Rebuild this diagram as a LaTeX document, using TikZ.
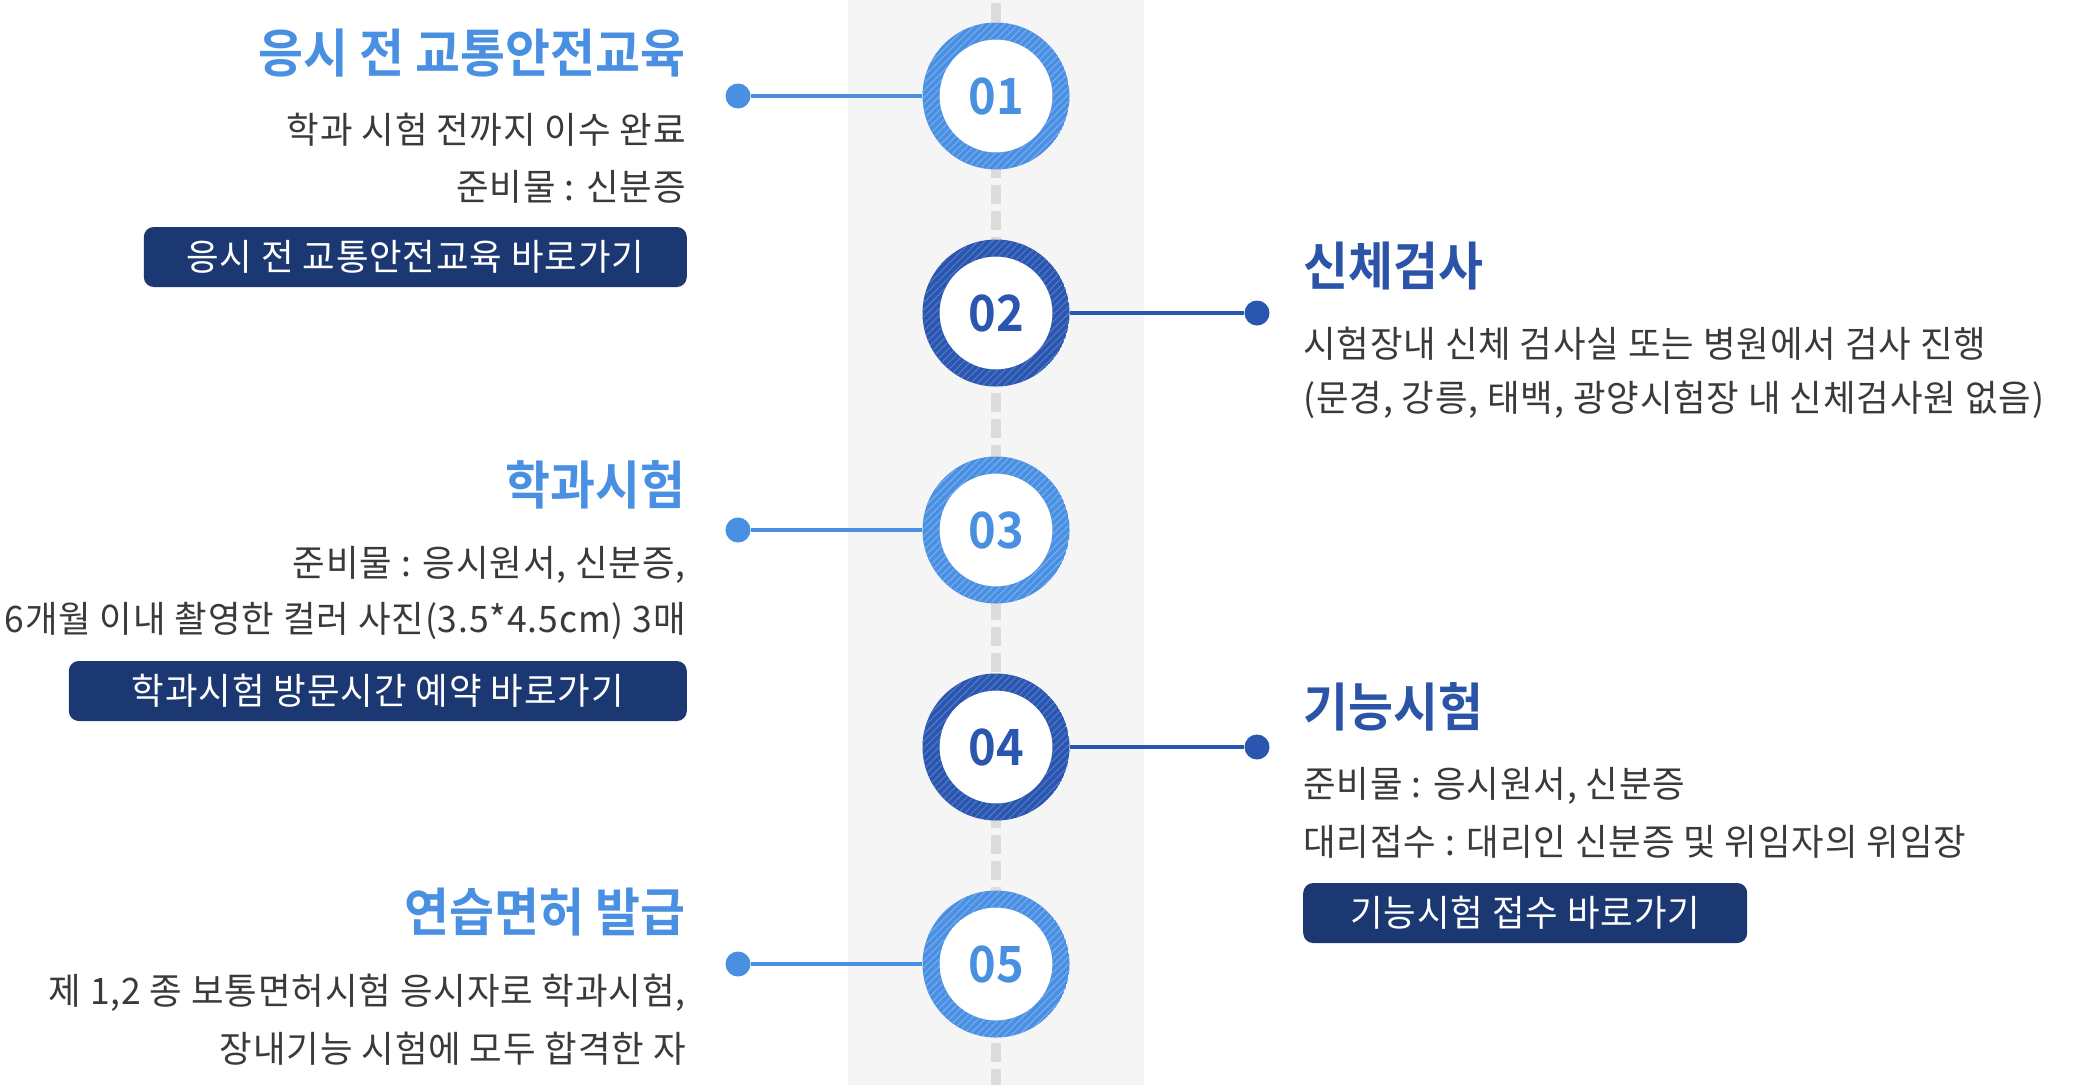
\documentclass[tikz,border=0pt]{standalone}
\usepackage{fontspec}
\setmainfont{Noto Sans CJK KR}
\newfontfamily\headfont[FakeStretch=0.94]{Noto Sans CJK KR Bold}
\newfontfamily\bodyfont[FakeStretch=0.97, LetterSpace=2.5]{Noto Sans CJK KR}
\usetikzlibrary{patterns.meta}
\definecolor{step-light}{HTML}{4A90E2}
\definecolor{step-dark}{HTML}{2A56B0}
\definecolor{stripe-light}{HTML}{78ACEE}
\definecolor{stripe-dark}{HTML}{5279C6}
\definecolor{title-dark}{HTML}{2B54A8}
\definecolor{navy}{HTML}{1B3872}
\definecolor{body-gray}{HTML}{3A3A3A}
\definecolor{band}{HTML}{F5F5F5}
\definecolor{spine}{HTML}{DCDCDC}

\begin{document}
\begin{tikzpicture}[x=1pt, y=-1pt,
  every node/.style={inner sep=0pt},
  ringL/.style={circle, minimum size=147pt, fill=white, text=step-light,
    font=\headfont\fontsize{50}{50}\selectfont,
    path picture={
      \fill[step-light, even odd rule] (path picture bounding box.center)
        circle[radius=73.5pt] circle[radius=56.5pt];
      \fill[pattern={Lines[angle=45,distance=5pt,line width=1.1pt]}, pattern color=stripe-light, even odd rule]
        (path picture bounding box.center) circle[radius=73.5pt] circle[radius=56.5pt];}},
  ringD/.style={circle, minimum size=147pt, fill=white, text=step-dark,
    font=\headfont\fontsize{50}{50}\selectfont,
    path picture={
      \fill[step-dark, even odd rule] (path picture bounding box.center)
        circle[radius=73.5pt] circle[radius=56.5pt];
      \fill[pattern={Lines[angle=45,distance=5pt,line width=1.1pt]}, pattern color=stripe-dark, even odd rule]
        (path picture bounding box.center) circle[radius=73.5pt] circle[radius=56.5pt];}},
  dotL/.style={circle, fill=step-light, minimum size=25pt},
  dotD/.style={circle, fill=step-dark, minimum size=25pt},
  linkL/.style={step-light, line width=4pt},
  linkD/.style={step-dark, line width=4pt},
  headL/.style={font=\headfont\fontsize{52}{52}\selectfont, text=step-light},
  headD/.style={font=\headfont\fontsize{52}{52}\selectfont, text=title-dark},
  body/.style={font=\bodyfont\fontsize{36.5}{36.5}\selectfont, text=body-gray},
  btn/.style={fill=navy, rounded corners=10pt, minimum height=60pt, text=white,
    font=\bodyfont\fontsize{36.5}{36.5}\selectfont}]
  \useasboundingbox (0,0) rectangle (2085,1085);
  \fill[white] (0,0) rectangle (2085,1085);
  \fill[band] (848,0) rectangle (1144,1085);
  \draw[spine, line width=10pt, dash pattern=on 19pt off 7pt] (996,3) -- (996,1085);

  % timeline steps
  \node[ringL] (c1) at (996,96) {01};
  \node[ringD] (c2) at (996,313) {02};
  \node[ringL] (c3) at (996,530) {03};
  \node[ringD] (c4) at (996,747) {04};
  \node[ringL] (c5) at (996,964) {05};

  \node[dotL] (d1) at (738,96) {};
  \node[dotD] (d2) at (1257,313) {};
  \node[dotL] (d3) at (738,530) {};
  \node[dotD] (d4) at (1257,747) {};
  \node[dotL] (d5) at (738,964) {};
  \draw[linkL] (d1) -- (c1);
  \draw[linkD] (c2) -- (d2);
  \draw[linkL] (d3) -- (c3);
  \draw[linkD] (c4) -- (d4);
  \draw[linkL] (d5) -- (c5);

  % 01
  \node[headL, anchor=east] (t1) at (686,53) {응시 전 교통안전교육};
  \node[body, anchor=east] (t1a) at (686,130) {학과 시험 전까지 이수 완료};
  \node[body, anchor=east] (t1b) at (686,187) {준비물 : 신분증};
  \node[btn, minimum width=543pt, anchor=east] (b1) at (687,257) {응시 전 교통안전교육 바로가기};

  % 02
  \node[headD, anchor=west] (t2) at (1303,266) {신체검사};
  \node[body, anchor=west] (t2a) at (1303,344) {시험장내 신체 검사실 또는 병원에서 검사 진행};
  \node[body, anchor=west] (t2b) at (1303,400) {(문경, 강릉, 태백, 광양시험장 내 신체검사원 없음)};

  % 03
  \node[headL, anchor=east] (t3) at (686,485) {학과시험};
  \node[body, anchor=east] (t3a) at (686,565) {준비물 : 응시원서, 신분증,};
  \node[body, anchor=east] (t3b) at (686,621) {6개월 이내 촬영한 컬러 사진(3.5*4.5cm) 3매};
  \node[btn, minimum width=618pt, anchor=east] (b3) at (687,691) {학과시험 방문시간 예약 바로가기};

  % 04
  \node[headD, anchor=west] (t4) at (1303,707) {기능시험};
  \node[body, anchor=west] (t4a) at (1303,786) {준비물 : 응시원서, 신분증};
  \node[body, anchor=west] (t4b) at (1303,842) {대리접수 : 대리인 신분증 및 위임자의 위임장};
  \node[btn, minimum width=444pt, anchor=west] (b4) at (1303,913) {기능시험 접수 바로가기};

  % 05
  \node[headL, anchor=east] (t5) at (686,912) {연습면허 발급};
  \node[body, anchor=east] (t5a) at (686,993) {제 1,2 종 보통면허시험 응시자로 학과시험,};
  \node[body, anchor=east] (t5b) at (686,1049) {장내기능 시험에 모두 합격한 자};
\end{tikzpicture}
\end{document}
